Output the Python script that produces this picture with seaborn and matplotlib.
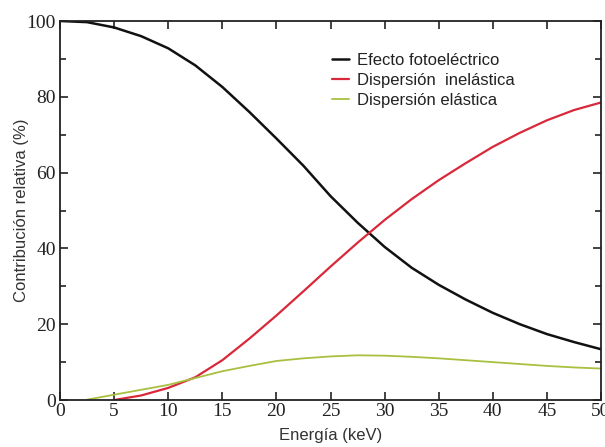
import numpy as np
import pandas as pd
import matplotlib
matplotlib.use("Agg")
import matplotlib.pyplot as plt
from matplotlib.ticker import MultipleLocator
import seaborn as sns

energy = [0, 2.5, 5, 7.5, 10, 12.5, 15, 17.5, 20, 22.5, 25, 27.5, 30,
          32.5, 35, 37.5, 40, 42.5, 45, 47.5, 50]
foto = [100, 99.7, 98.3, 96.0, 92.8, 88.3, 82.6, 76.0, 69.0, 61.8, 53.8, 46.8,
        40.4, 34.9, 30.4, 26.5, 23.0, 20.0, 17.4, 15.3, 13.4]
inel = [np.nan, np.nan, 0.0, 1.2, 3.2, 6.0, 10.5, 16.2, 22.3, 28.7, 35.2, 41.5,
        47.5, 53.0, 58.0, 62.5, 66.8, 70.5, 73.8, 76.5, 78.5]
elas = [np.nan, 0.1, 1.4, 2.7, 4.0, 5.8, 7.6, 9.0, 10.3, 11.0, 11.5, 11.8,
        11.7, 11.4, 11.0, 10.5, 10.0, 9.5, 9.0, 8.6, 8.3]
labels = ["Efecto fotoeléctrico", "Dispersión  inelástica", "Dispersión elástica"]
colors = ["#111111", "#d8283a", "#a8c040"]
widths = [1.8, 1.6, 1.3]

df = pd.concat([
    pd.DataFrame({"E": energy, "v": vals, "s": lab})
    for vals, lab in zip([foto, inel, elas], labels)
])

sns.set_style("ticks")
plt.rcParams["font.family"] = ["Liberation Sans", "DejaVu Sans"]

fig = plt.figure(figsize=(6.05, 4.47), dpi=100)
ax = fig.add_axes([0.0992, 0.1051, 0.8942, 0.8479])

for lab, col, lw in zip(labels, colors, widths):
    sub = df[df["s"] == lab]
    sns.lineplot(data=sub, x="E", y="v", color=col, linewidth=lw, ax=ax,
                 label=lab, sort=False)

ax.set_xlim(0, 50)
ax.set_ylim(0, 100)
ax.xaxis.set_major_locator(MultipleLocator(5))
ax.yaxis.set_major_locator(MultipleLocator(20))
ax.yaxis.set_minor_locator(MultipleLocator(10))
ax.tick_params(axis="both", which="both", direction="in", top=True, right=True,
               color="#222222", width=1.2)
ax.tick_params(which="major", length=6)
ax.tick_params(which="minor", length=4)
for lbl in ax.get_xticklabels() + ax.get_yticklabels():
    lbl.set_fontfamily("Liberation Serif")
    lbl.set_fontsize(14)
    lbl.set_color("#222222")
ax.tick_params(axis="x", pad=2)
ax.tick_params(axis="y", pad=3)
for sp in ax.spines.values():
    sp.set_linewidth(1.3)
    sp.set_color("#222222")

ax.set_xlabel("Energía (keV)", fontsize=12, labelpad=6, color="#333333")
ax.set_ylabel("Contribución relativa (%)", fontsize=12, labelpad=-2, color="#333333")

leg = ax.legend(frameon=False, loc="upper left", bbox_to_anchor=(0.503, 0.915),
                borderaxespad=0, borderpad=0, handlelength=1.0, handletextpad=0.5,
                labelspacing=0.28, fontsize=12)
for t in leg.get_texts():
    t.set_color("#222222")

fig.savefig("out.png", dpi=100)
